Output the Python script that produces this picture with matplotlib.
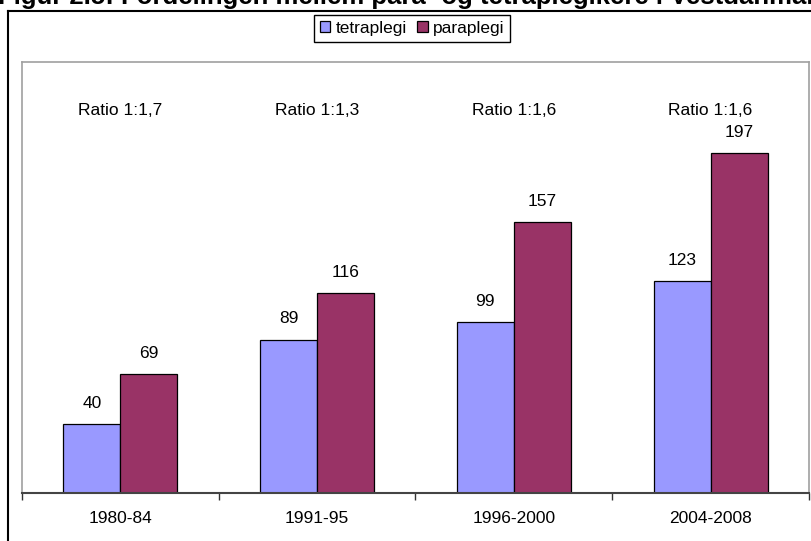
import matplotlib.pyplot as plt
from matplotlib.lines import Line2D

plt.rcParams['font.family'] = ['Liberation Sans', 'DejaVu Sans']

perioder = ['1980-84', '1991-95', '1996-2000', '2004-2008']
tetraplegi = [40, 89, 99, 123]
paraplegi = [69, 116, 157, 197]
ratio_tekst = ['Ratio 1:1,7', 'Ratio 1:1,3', 'Ratio 1:1,6', 'Ratio 1:1,6']
titel = 'Figur 2.5: Fordelingen mellem para- og tetraplegikere i Vestdanmark'

W, H = 812, 541
fig = plt.figure(figsize=(W / 100, H / 100), dpi=100)
ax = fig.add_axes([22 / W, 1 - 493 / H, 787 / W, 431 / H])

x = list(range(len(perioder)))
bw = 0.29
b1 = ax.bar([i - bw / 2 for i in x], tetraplegi, bw, color='#9999ff',
            edgecolor='black', linewidth=0.9, label='tetraplegi')
b2 = ax.bar([i + bw / 2 for i in x], paraplegi, bw, color='#993366',
            edgecolor='black', linewidth=0.9, label='paraplegi')

for bars in (b1, b2):
    for r in bars:
        ax.annotate(f'{r.get_height():.0f}',
                    (r.get_x() + r.get_width() / 2, r.get_height()),
                    xytext=(0, 15), textcoords='offset points',
                    ha='center', va='center', fontsize=12.5)

for i, t in zip(x, ratio_tekst):
    ax.text(i, 222, t, ha='center', va='center', fontsize=12.5)

ax.set_xlim(-0.5, len(perioder) - 0.5)
ax.set_ylim(0, 250)
ax.set_yticks([])
ax.set_xticks(x)
ax.set_xticklabels(perioder, fontsize=12.5)
ax.tick_params(axis='x', which='major', length=0, pad=13)
ax.set_xticks([i - 0.5 for i in range(len(perioder) + 1)], minor=True)
ax.tick_params(axis='x', which='minor', length=5, width=1, color='#333333')

for s in ('left', 'top', 'right'):
    ax.spines[s].set_color('#a0a0a0')
    ax.spines[s].set_linewidth(1.2)
ax.spines['bottom'].set_color('#444444')
ax.spines['bottom'].set_linewidth(1.5)

leg = fig.legend(handles=[b1, b2], loc='upper center',
                 bbox_to_anchor=(412 / W, 1 - 15 / H), ncol=2, fontsize=12.5,
                 frameon=True, fancybox=False, edgecolor='black', framealpha=1,
                 handlelength=0.6, handleheight=0.6, handletextpad=0.3,
                 columnspacing=0.6, borderpad=0.35, borderaxespad=0)
leg.get_frame().set_linewidth(1)

# ramme rundt om figuren
fig.add_artist(Line2D([8 / W, 8 / W], [0, 1 - 11 / H], color='black',
                      linewidth=1.5, transform=fig.transFigure))
fig.add_artist(Line2D([8 / W, 1], [1 - 11 / H, 1 - 11 / H], color='black',
                      linewidth=1.5, transform=fig.transFigure))

fig.text(-2 / W, 1 - 4 / H, titel, fontsize=18.5, fontweight='bold',
         ha='left', va='baseline')

fig.savefig('out.png', dpi=100)
